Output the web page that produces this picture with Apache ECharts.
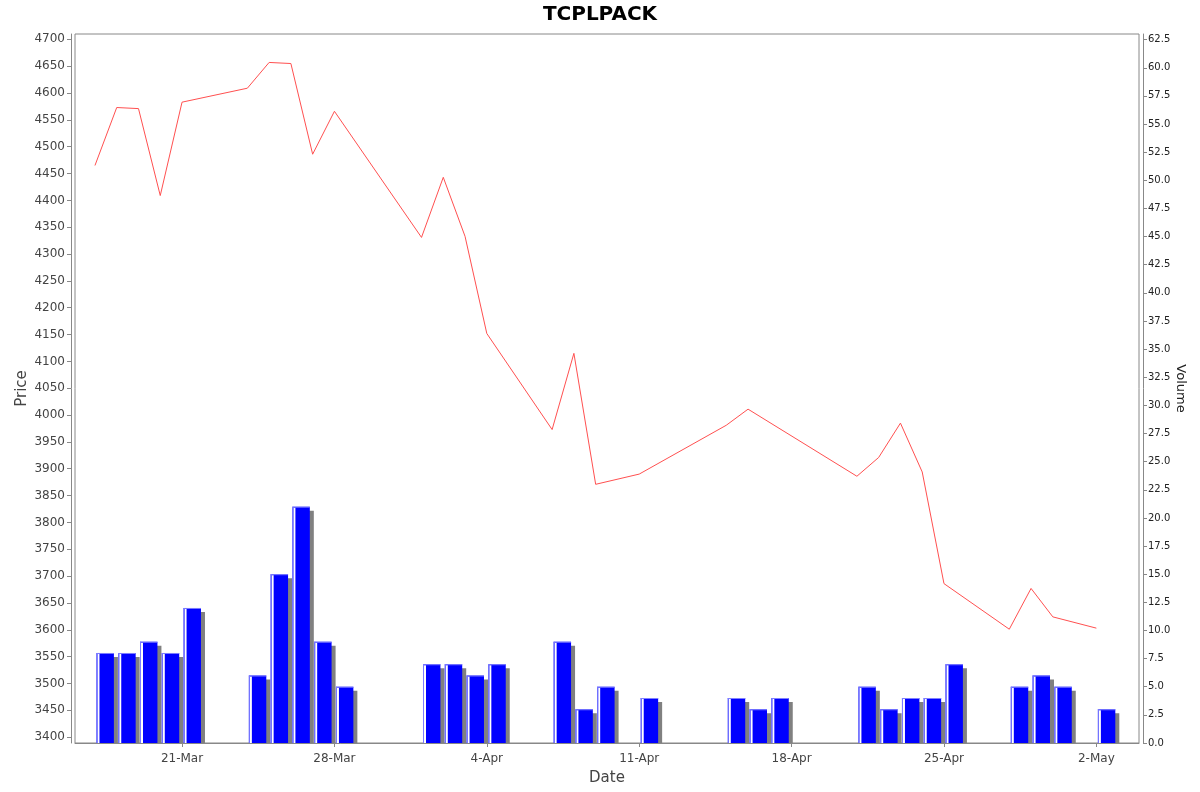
<!DOCTYPE html>
<html>
<head>
<meta charset="utf-8">
<script src="https://cdn.jsdelivr.net/npm/echarts@6/dist/echarts.min.js"></script>
<style>
  html,body{margin:0;padding:0;background:#fff;}
  #chart{width:1200px;height:792px;}
</style>
</head>
<body>
<div id="chart"></div>
<script>
// ===== Dados
const priceDates = ['2025-03-17','2025-03-18','2025-03-19','2025-03-20','2025-03-21','2025-03-24','2025-03-25','2025-03-26','2025-03-27','2025-03-28',
  '2025-04-01','2025-04-02','2025-04-03','2025-04-04','2025-04-07','2025-04-08','2025-04-09','2025-04-11','2025-04-15','2025-04-16',
  '2025-04-21','2025-04-22','2025-04-23','2025-04-24','2025-04-25','2025-04-28','2025-04-29','2025-04-30','2025-05-02'];
const prices = [4465,4573,4571,4409,4583,4609,4657,4655,4486,4566,
  4331,4443,4333,4152,3973,4115,3871,3890,3981,4011,
  3886,3921,3985,3894,3686,3601,3677,3624,3603];

const volDates = ['2025-03-17','2025-03-18','2025-03-19','2025-03-20','2025-03-21','2025-03-24','2025-03-25','2025-03-26','2025-03-27','2025-03-28',
  '2025-04-01','2025-04-02','2025-04-03','2025-04-04','2025-04-07','2025-04-08','2025-04-09','2025-04-11','2025-04-15','2025-04-16','2025-04-17',
  '2025-04-21','2025-04-22','2025-04-23','2025-04-24','2025-04-25','2025-04-28','2025-04-29','2025-04-30','2025-05-02'];
const volumes = [8,8,9,8,12,6,15,21,9,5,
  7,7,6,7,9,3,5,4,4,3,4,
  5,3,4,4,7,5,6,5,3];

const dateTicks = ['2025-03-21','2025-03-28','2025-04-04','2025-04-11','2025-04-18','2025-04-25','2025-05-02'];
const priceTicks = []; for (let v=3400; v<=4700; v+=50) priceTicks.push(v);
const volTicks = []; for (let v=0; v<=62.5; v+=2.5) volTicks.push(v);

// ===== Helpers
const DAY = 86400000;
const MESES = ['Jan','Feb','Mar','Apr','May','Jun','Jul','Aug','Sep','Oct','Nov','Dec'];
function ts(s){ return Date.parse(s); }
function fmtDate(v){ const d=new Date(v); return d.getUTCDate()+'-'+MESES[d.getUTCMonth()]; }

const FONT = 'DejaVu Sans';
const AX = '#888888';

// barra com sombra cinza e borda clara à esquerda
function renderBar(params, api){
  const t = api.value(0), v = api.value(1);
  const p0 = api.coord([t + 0.07*DAY, v]);
  const p1 = api.coord([t + 0.87*DAY, 0]);
  const x=p0[0], y=p0[1], w=p1[0]-p0[0], h=p1[1]-p0[1];
  return { type:'group', children:[
    { type:'rect', shape:{x:x+4, y:y+4, width:w, height:Math.max(0,h-4)}, style:{fill:'#808080'} },
    { type:'rect', shape:{x:x, y:y, width:w, height:h}, style:{fill:'#0000ff'} },
    { type:'rect', shape:{x:x+1, y:y+1, width:2, height:h-1}, style:{fill:'#ffffff'} },
    { type:'rect', shape:{x:x, y:y, width:1, height:h}, style:{fill:'#7f7fff'} },
    { type:'rect', shape:{x:x, y:y, width:w, height:1}, style:{fill:'#7f7fff'} }
  ]};
}

const chart = echarts.init(document.getElementById('chart'));
chart.setOption({
  backgroundColor:'#ffffff',
  animation:false,
  title:{ text:'TCPLPACK', left:'center', top:0,
    textStyle:{ fontFamily:FONT, fontSize:20, fontWeight:'bold', color:'#000' } },
  grid:{ left:75, top:34, width:1064, height:709, show:true, borderColor:AX, borderWidth:1,
    backgroundColor:'#fff', outerBoundsMode:'none', containLabel:false },
  xAxis:{
    type:'value', min:Date.UTC(2025,2,16,2), max:Date.UTC(2025,4,3,23),
    offset:4, splitLine:{show:false},
    name:'Date', nameLocation:'middle', nameGap:24, nameMoveOverlap:false,
    nameTextStyle:{ fontFamily:FONT, fontSize:15, color:'#444' },
    axisLine:{ show:true, lineStyle:{color:AX} },
    axisTick:{ show:true, length:4, lineStyle:{color:AX}, customValues:dateTicks.map(ts) },
    axisLabel:{ fontFamily:FONT, fontSize:12, color:'#444', margin:6, customValues:dateTicks.map(ts), formatter:fmtDate }
  },
  yAxis:[
    { type:'value', min:3389, max:4710, position:'left', offset:4, splitLine:{show:false},
      name:'Price', nameLocation:'middle', nameGap:41, nameRotate:90, nameMoveOverlap:false,
      nameTextStyle:{ fontFamily:FONT, fontSize:15, color:'#444' },
      axisLine:{ show:true, lineStyle:{color:AX} },
      axisTick:{ show:true, length:4, lineStyle:{color:AX}, customValues:priceTicks },
      axisLabel:{ fontFamily:FONT, fontSize:12, color:'#444', margin:6, customValues:priceTicks,
        formatter:v=>String(v) } },
    { type:'value', min:0, max:63, position:'right', offset:4, splitLine:{show:false},
      name:'Volume', nameLocation:'middle', nameGap:31, nameRotate:-90, nameMoveOverlap:false,
      nameTextStyle:{ fontFamily:FONT, fontSize:13, color:'#222' },
      axisLine:{ show:true, lineStyle:{color:AX} },
      axisTick:{ show:true, length:4, lineStyle:{color:AX}, customValues:volTicks },
      axisLabel:{ fontFamily:FONT, fontSize:10, color:'#222', margin:5, customValues:volTicks,
        formatter:v=>v.toFixed(1) } }
  ],
  series:[
    { type:'custom', name:'Volume', yAxisIndex:1, renderItem:renderBar, clip:true,
      encode:{x:0, y:1},
      data: volDates.map((d,i)=>[ts(d), volumes[i]]) },
    { type:'line', name:'Price', yAxisIndex:0, showSymbol:false, z:5,
      lineStyle:{ color:'#ff5050', width:1 },
      data: priceDates.map((d,i)=>[ts(d), prices[i]]) }
  ]
});
</script>
</body>
</html>
